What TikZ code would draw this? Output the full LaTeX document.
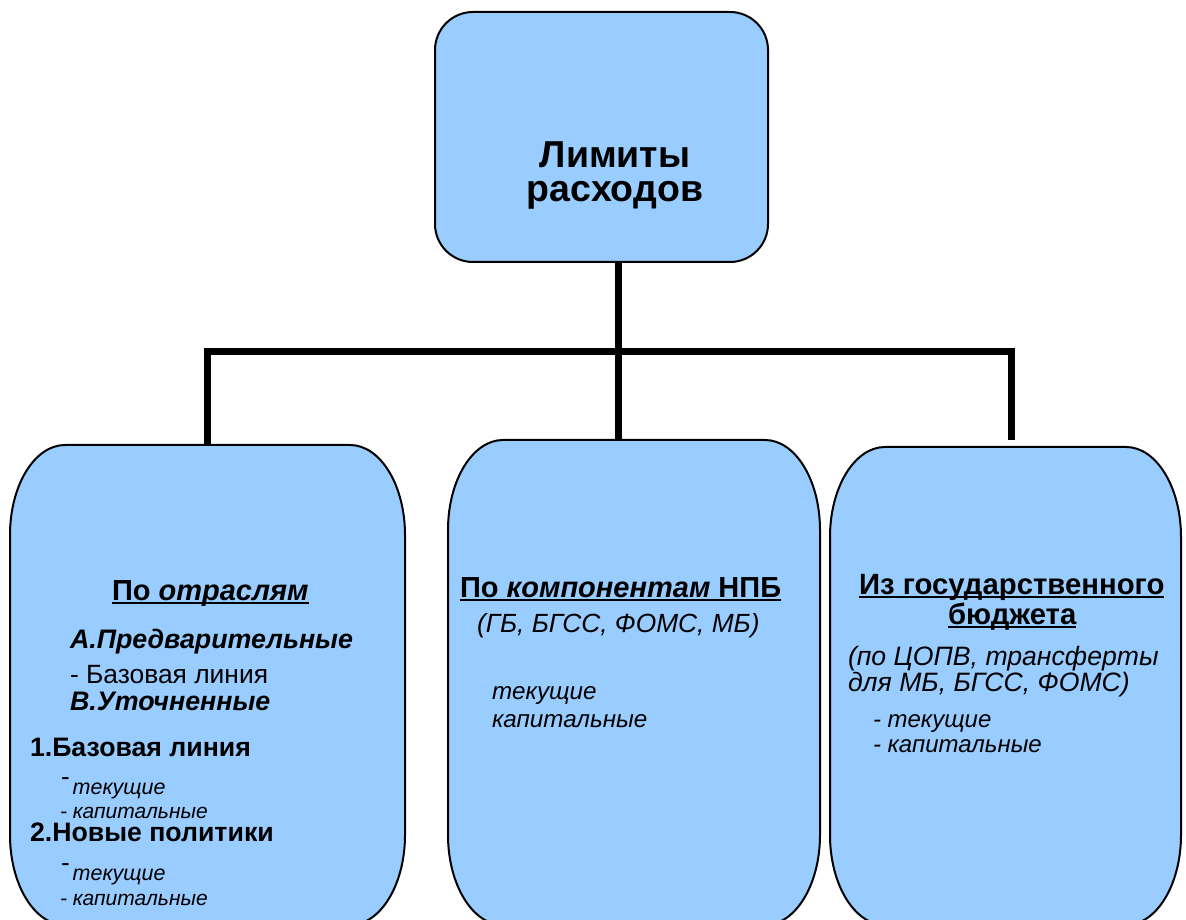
\documentclass[tikz,border=0pt]{standalone}
\usepackage{fontspec}
\setmainfont{Liberation Sans}
\usetikzlibrary{calc}
\definecolor{boxblue}{RGB}{153,204,255}
\newcommand\fs[1]{\fontsize{#1}{#1}\selectfont}
\newcommand\ulinetext[1]{\setbox0=\hbox{#1}\rlap{\rule[-3.5pt]{\wd0}{2.5pt}}\box0}
\newcommand\updash{{\fs{26}\raisebox{9pt}{-}}\hspace{3pt}}
% box with elliptical corners drawn around an (invisible) node
\newcommand\drawelbox[3]{%
  \draw[boxline] ($(#1.north west)+(#2,0)$) -- ($(#1.north east)+(-#2,0)$)
    arc[start angle=90,end angle=0,x radius=#2,y radius=#3]
    -- ($(#1.south east)+(0,#3)$)
    arc[start angle=0,end angle=-90,x radius=#2,y radius=#3]
    -- ($(#1.south west)+(#2,0)$)
    arc[start angle=270,end angle=180,x radius=#2,y radius=#3]
    -- ($(#1.north west)+(0,-#3)$)
    arc[start angle=180,end angle=90,x radius=#2,y radius=#3] -- cycle;}
\begin{document}
\begin{tikzpicture}[x=1pt,y=1pt,
  boxline/.style={draw=black,line width=2pt,fill=boxblue},
  area/.style={draw=none,inner sep=0,outer sep=0},
  conn/.style={line width=7pt,draw=black},
  txt/.style={anchor=base west,inner sep=0,outer sep=0},
  ctxt/.style={anchor=base,inner sep=0,outer sep=0}]
\useasboundingbox (0,0) rectangle (1186,919);

% top box
\node[boxline,rounded corners=38pt,minimum width=333pt,minimum height=250pt,inner sep=0]
  (top) at (601.5,782) {};
\node[ctxt,font=\bfseries\fs{37.5}] (t1) at (615,751) {Лимиты};
\node[ctxt,font=\bfseries\fs{37.5}] (t2) at (615,717) {расходов};

% lower boxes
\node[area,minimum width=395pt,minimum height=480pt] (left) at (207.5,234) {};
\node[area,minimum width=372pt,minimum height=485pt] (mid) at (634,236.5) {};
\node[area,minimum width=351pt,minimum height=478pt] (right) at (1005.5,233) {};
\drawelbox{left}{55pt}{90pt}
\drawelbox{mid}{55pt}{90pt}
\drawelbox{right}{55pt}{90pt}

% connectors
\coordinate (busL) at (207,567);
\coordinate (busM) at (618,567);
\coordinate (busR) at (1011,567);
\draw[conn] (top.south -| busM) -- (busM);
\draw[conn] ($(busL)+(-3.5,0)$) -- ($(busR)+(3.5,0)$);
\draw[conn] (busL) -- (busL |- left.north);
\draw[conn] (busM) -- (busM |- mid.north);
\draw[conn,shorten >=7pt] (busR) -- (busR |- right.north);

% left box text
\node[txt,font=\bfseries\fs{29}] (l1) at (112,318) {\ulinetext{По \textit{отраслям}}};
\node[txt,font=\bfseries\itshape\fs{26.8}] (l2) at (70,270) {А.Предварительные};
\node[txt,font=\fs{26.4}] (l3) at (70,236) {- Базовая линия};
\node[txt,font=\bfseries\itshape\fs{26.8}] (l4) at (70,208) {В.Уточненные};
\node[txt,font=\bfseries\fs{26.7}] (l5) at (30,163) {1.Базовая линия};
\node[txt] (l6) at (61,125) {\updash{\fs{21.5}\itshape текущие}};
\node[txt,font=\itshape\fs{21}] (l7) at (60,101) {- капитальные};
\node[txt,font=\bfseries\fs{26.7}] (l8) at (30,78) {2.Новые политики};
\node[txt] (l9) at (61,39) {\updash{\fs{21.5}\itshape текущие}};
\node[txt,font=\itshape\fs{21}] (l10) at (60,14) {- капитальные};

% middle box text
\node[txt,font=\bfseries\fs{29}] (m1) at (460,321) {\ulinetext{По \textit{компонентам} НПБ}};
\node[txt,font=\itshape\fs{26.3}] (m2) at (477,286) {(ГБ, БГСС, ФОМС, МБ)};
\node[txt,font=\itshape\fs{24.2}] (m3) at (492,219) {текущие};
\node[txt,font=\itshape\fs{24.2}] (m4) at (492,192) {капитальные};

% right box text
\node[txt,font=\bfseries\fs{29.3}] (r1) at (859,324) {\ulinetext{Из государственного}};
\node[txt,font=\bfseries\fs{29.3}] (r2) at (948,294) {\ulinetext{бюджета}};
\node[txt,font=\itshape\fs{26.6}] (r3) at (848,253) {(по ЦОПВ, трансферты};
\node[txt,font=\itshape\fs{26.6}] (r4) at (848,228) {для МБ, БГСС, ФОМС)};
\node[txt,font=\itshape\fs{24}] (r5) at (873,192) {- текущие};
\node[txt,font=\itshape\fs{24}] (r6) at (873,167) {- капитальные};
\end{tikzpicture}
\end{document}
